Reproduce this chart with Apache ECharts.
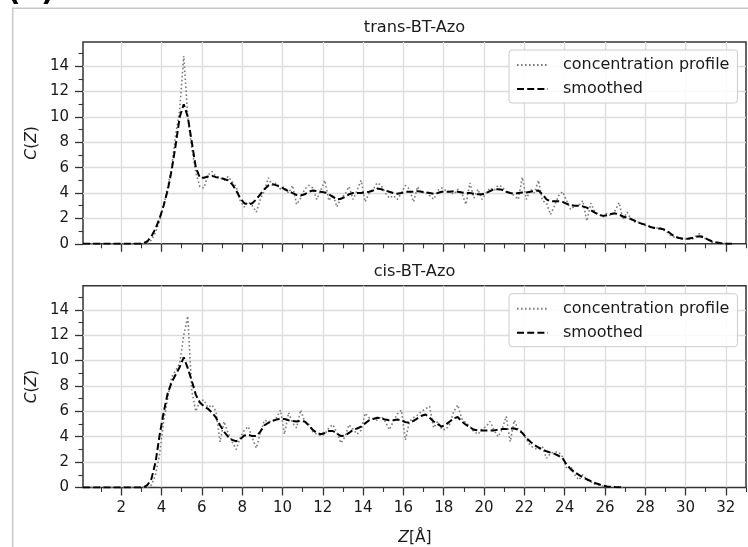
<!DOCTYPE html>
<html>
<head>
<meta charset="utf-8">
<script src="https://cdn.jsdelivr.net/npm/echarts@6/dist/echarts.min.js"></script>
<style>
  html, body { margin: 0; padding: 0; background: #fff; }
  #chart { width: 748px; height: 547px; }
</style>
</head>
<body>
<div id="chart"></div>
<script>
// bin centres along Z (Å)
const zBins = [
  0.1, 0.3, 0.5, 0.7, 0.9, 1.1, 1.3, 1.5, 1.7, 1.9,
  2.1, 2.3, 2.5, 2.7, 2.9, 3.1, 3.3, 3.5, 3.7, 3.9,
  4.1, 4.3, 4.5, 4.7, 4.9, 5.1, 5.3, 5.5, 5.7, 5.9,
  6.1, 6.3, 6.5, 6.7, 6.9, 7.1, 7.3, 7.5, 7.7, 7.9,
  8.1, 8.3, 8.5, 8.7, 8.9, 9.1, 9.3, 9.5, 9.7, 9.9,
  10.1, 10.3, 10.5, 10.7, 10.9, 11.1, 11.3, 11.5, 11.7, 11.9,
  12.1, 12.3, 12.5, 12.7, 12.9, 13.1, 13.3, 13.5, 13.7, 13.9,
  14.1, 14.3, 14.5, 14.7, 14.9, 15.1, 15.3, 15.5, 15.7, 15.9,
  16.1, 16.3, 16.5, 16.7, 16.9, 17.1, 17.3, 17.5, 17.7, 17.9,
  18.1, 18.3, 18.5, 18.7, 18.9, 19.1, 19.3, 19.5, 19.7, 19.9,
  20.1, 20.3, 20.5, 20.7, 20.9, 21.1, 21.3, 21.5, 21.7, 21.9,
  22.1, 22.3, 22.5, 22.7, 22.9, 23.1, 23.3, 23.5, 23.7, 23.9,
  24.1, 24.3, 24.5, 24.7, 24.9, 25.1, 25.3, 25.5, 25.7, 25.9,
  26.1, 26.3, 26.5, 26.7, 26.9, 27.1, 27.3, 27.5, 27.7, 27.9,
  28.1, 28.3, 28.5, 28.7, 28.9, 29.1, 29.3, 29.5, 29.7, 29.9,
  30.1, 30.3, 30.5, 30.7, 30.9, 31.1, 31.3, 31.5, 31.7, 31.9,
  32.1, 32.3
]

// trans-BT-Azo
const transProfile = [
  0, 0, 0, 0, 0, 0, 0, 0, 0, 0,
  0, 0, 0, 0, 0, 0, 0.05, 0.3, 0.9, 1.8,
  3.0, 4.4, 6.0, 8.6, 10.6, 14.8, 10.0, 7.5, 5.6, 4.5,
  4.4, 5.4, 5.7, 5.3, 5.2, 5.0, 5.3, 4.9, 4.5, 3.4,
  2.9, 3.3, 3.0, 2.5, 3.5, 4.2, 5.2, 4.6, 4.8, 4.3,
  4.5, 4.0, 4.6, 3.1, 3.6, 4.3, 4.6, 4.4, 3.5, 4.2,
  5.0, 3.4, 3.9, 2.9, 3.6, 3.9, 4.5, 3.5, 4.2, 5.0,
  3.3, 4.0, 4.3, 4.8, 4.6, 4.0, 3.6, 3.8, 3.5, 4.0,
  4.6, 4.3, 3.3, 4.5, 4.0, 4.1, 3.8, 3.5, 4.2, 4.4,
  4.2, 4.1, 3.9, 4.3, 4.0, 3.1, 4.8, 3.6, 4.3, 3.5,
  4.0, 4.4, 4.2, 4.6, 4.5, 4.1, 4.0, 3.8, 3.5, 5.25,
  3.5, 4.3, 4.0, 5.0, 3.4, 3.2, 2.3, 3.0, 3.8, 4.1,
  3.4, 2.7, 3.0, 3.0, 3.4, 1.8, 3.2, 2.5, 2.3, 2.1,
  2.4, 2.2, 2.6, 3.25, 1.9, 2.5, 1.9, 1.7, 1.7, 1.5,
  1.4, 1.3, 1.2, 1.3, 1.1, 0.9, 0.6, 0.5, 0.4, 0.35,
  0.4, 0.3, 0.6, 0.8, 0.5, 0.3, 0.15, 0.1, 0.05, 0.02,
  0, 0
]
const transSmoothed = [
  0, 0, 0, 0, 0, 0, 0, 0, 0, 0,
  0, 0, 0, 0, 0, 0.05, 0.2, 0.6, 1.2, 2.0,
  3.0, 4.2, 5.8, 7.8, 10.0, 11.0, 10.0, 8.0, 6.0, 5.2,
  5.2, 5.3, 5.35, 5.25, 5.2, 5.1, 5.0, 4.7, 4.2, 3.6,
  3.2, 3.1, 3.2, 3.5, 3.9, 4.3, 4.6, 4.7, 4.6, 4.5,
  4.3, 4.15, 4.0, 3.85, 3.8, 3.9, 4.1, 4.2, 4.15, 4.1,
  4.05, 3.9, 3.7, 3.5, 3.55, 3.7, 3.9, 4.0, 4.0, 4.0,
  4.05, 4.1, 4.2, 4.35, 4.3, 4.2, 4.1, 4.0, 3.95, 4.0,
  4.1, 4.1, 4.1, 4.15, 4.1, 4.05, 4.0, 3.95, 4.0, 4.1,
  4.1, 4.1, 4.15, 4.1, 4.05, 4.0, 4.0, 3.95, 3.9, 3.9,
  4.0, 4.15, 4.3, 4.3, 4.25, 4.1, 4.0, 3.95, 4.0, 4.05,
  4.05, 4.1, 4.15, 4.2, 3.9, 3.5, 3.35, 3.35, 3.35, 3.3,
  3.15, 3.05, 3.0, 3.0, 2.95, 2.85, 2.65, 2.45, 2.3, 2.2,
  2.25, 2.35, 2.4, 2.3, 2.15, 2.05, 1.95, 1.8, 1.65, 1.55,
  1.45, 1.3, 1.25, 1.2, 1.15, 1.0, 0.75, 0.55, 0.45, 0.4,
  0.4, 0.45, 0.55, 0.6, 0.5, 0.35, 0.2, 0.12, 0.07, 0.03,
  0.01, 0
]

// cis-BT-Azo
const cisProfile = [
  0, 0, 0, 0, 0, 0, 0, 0, 0, 0,
  0, 0, 0, 0, 0, 0, 0, 0.2, 1.0, 2.6,
  5.2, 7.0, 8.7, 9.2, 9.8, 12.0, 13.5, 7.6, 6.0, 6.8,
  6.9, 6.3, 6.5, 6.0, 3.6, 5.2, 4.3, 3.6, 3.0, 3.9,
  4.5, 4.8, 3.9, 3.1, 4.3, 5.3, 5.2, 5.2, 5.5, 6.1,
  4.2, 5.9, 5.1, 4.7, 6.1, 5.2, 5.0, 4.4, 4.2, 4.1,
  4.2, 4.7, 4.95, 4.3, 3.5, 4.0, 4.95, 4.6, 4.2, 4.5,
  5.85, 5.5, 5.4, 5.3, 5.6, 5.2, 4.55, 5.2, 5.8, 6.1,
  3.75, 5.2, 5.5, 5.7, 6.0, 6.2, 6.4, 4.7, 5.2, 4.6,
  4.55, 5.0, 6.0, 6.5, 5.4, 5.1, 4.8, 4.4, 4.2, 4.6,
  4.8, 5.2, 4.5, 4.0, 4.6, 5.6, 3.6, 5.3, 4.55, 4.4,
  3.8, 3.3, 3.1, 3.0, 3.2, 2.3, 2.7, 2.8, 2.8, 2.4,
  1.5, 1.7, 1.0, 0.6, 1.0, 0.6, 0.45, 0.25, 0.2, 0.12,
  0.08, 0.05, 0.03, 0.02, 0
]
const cisSmoothed = [
  0, 0, 0, 0, 0, 0, 0, 0, 0, 0,
  0, 0, 0, 0, 0, 0, 0.2, 0.7, 2.0, 4.1,
  5.9, 7.4, 8.3, 8.9, 9.5, 10.25, 9.4, 8.4, 7.3, 6.7,
  6.4, 6.2, 5.9, 5.5, 4.9, 4.4, 4.0, 3.75, 3.65, 3.8,
  4.1, 4.15, 4.05, 4.05, 4.4, 4.9, 5.1, 5.25, 5.35, 5.4,
  5.4, 5.3, 5.25, 5.2, 5.25, 5.2, 4.9, 4.55, 4.3, 4.2,
  4.3, 4.45, 4.45, 4.25, 4.05, 4.1, 4.3, 4.55, 4.65, 4.8,
  5.05, 5.3, 5.4, 5.5, 5.45, 5.35, 5.3, 5.3, 5.35, 5.3,
  5.15, 5.1, 5.25, 5.45, 5.65, 5.75, 5.5, 5.2, 5.0, 4.8,
  4.95, 5.2, 5.45, 5.55, 5.2, 4.95, 4.75, 4.55, 4.5, 4.5,
  4.5, 4.5, 4.5, 4.55, 4.6, 4.6, 4.65, 4.65, 4.55, 4.3,
  3.9, 3.6, 3.35, 3.15, 3.0, 2.85, 2.75, 2.65, 2.5, 2.3,
  1.8, 1.45, 1.2, 1.0, 0.8, 0.65, 0.5, 0.35, 0.25, 0.15,
  0.08, 0.05, 0.03, 0.02, 0
]

const xMajorTicks = [2, 4, 6, 8, 10, 12, 14, 16, 18, 20, 22, 24, 26, 28, 30, 32]
const xMinorTicks = [1, 3, 5, 7, 9, 11, 13, 15, 17, 19, 21, 23, 25, 27, 29, 31, 33]
const yMajorTicks = [0, 2, 4, 6, 8, 10, 12, 14]
const yMinorTicks = [1, 3, 5, 7, 9, 11, 13, 15]
const panelTitles = ['trans-BT-Azo', 'cis-BT-Azo']
const seriesNames = ['concentration profile', 'smoothed']

const X_MIN = 0.1
const X_MAX = 33
const Y_MAX = 15.9
const FONT = 'DejaVu Sans'
const gridTops = [42, 285.7]
const GRID_H = 201.8

const toPairs = (vals) => vals.map((v, i) => [zBins[i], v])

const chart = echarts.init(document.getElementById('chart'), null, { renderer: 'canvas' })

const grids = []
const xAxes = []
const yAxes = []
const legends = []
const series = []
const graphics = []

const profiles = [transProfile, cisProfile]
const smootheds = [transSmoothed, cisSmoothed]

gridTops.forEach((top, g) => {
  grids.push({
    left: 83, top: top, width: 663, height: GRID_H,
    show: true, borderColor: '#333', borderWidth: 1.5, backgroundColor: 'transparent'
  })
  // major x axis
  xAxes.push({
    gridIndex: g, type: 'value', min: X_MIN, max: X_MAX, position: 'bottom',
    axisLine: { show: false },
    axisTick: { show: true, customValues: xMajorTicks, length: 8, lineStyle: { color: '#333', width: 1.3 } },
    axisLabel: {
      show: g === 1, customValues: xMajorTicks, margin: 13,
      fontFamily: FONT, fontSize: 15, color: '#1a1a1a'
    },
    splitLine: { show: true, lineStyle: { color: '#dcdcdc', width: 1.3 } }
  })
  // minor x ticks
  xAxes.push({
    gridIndex: g, type: 'value', min: X_MIN, max: X_MAX, position: 'bottom', offset: 0,
    axisLine: { show: false },
    axisTick: { show: true, customValues: xMinorTicks, length: 4.5, lineStyle: { color: '#333', width: 1.1 } },
    axisLabel: { show: false },
    splitLine: { show: false }
  })
  yAxes.push({
    gridIndex: g, type: 'value', min: 0, max: Y_MAX, position: 'left',
    axisLine: { show: false },
    axisTick: { show: true, customValues: yMajorTicks, length: 8, lineStyle: { color: '#333', width: 1.3 } },
    axisLabel: {
      customValues: yMajorTicks, margin: 14,
      fontFamily: FONT, fontSize: 15, color: '#1a1a1a'
    },
    splitLine: { show: true, showMinLine: false, lineStyle: { color: '#dcdcdc', width: 1.3 } }
  })
  yAxes.push({
    gridIndex: g, type: 'value', min: 0, max: Y_MAX, position: 'left', offset: 0,
    axisLine: { show: false },
    axisTick: { show: true, customValues: yMinorTicks, length: 4.5, lineStyle: { color: '#333', width: 1.1 } },
    axisLabel: { show: false },
    splitLine: { show: false }
  })

  legends.push({
    data: seriesNames,
    orient: 'vertical',
    left: 509, top: top + 8,
    itemWidth: 31, itemHeight: 12, itemGap: 8,
    padding: [7, 8, 6, 7],
    backgroundColor: 'rgba(255,255,255,0.85)',
    borderColor: '#cccccc', borderWidth: 1, borderRadius: 3,
    itemStyle: { opacity: 0 },
    textStyle: { fontFamily: FONT, fontSize: 16, color: '#1a1a1a', padding: [0, 0, 0, 10] }
  })

  series.push({
    name: seriesNames[0], type: 'line', xAxisIndex: g * 2, yAxisIndex: g * 2,
    data: toPairs(profiles[g]), showSymbol: false, symbol: 'none',
    color: '#7c7c7c',
    lineStyle: { color: '#7c7c7c', width: 1.6, type: [1.6, 2.4] },
    z: 2
  })
  series.push({
    name: seriesNames[1], type: 'line', xAxisIndex: g * 2, yAxisIndex: g * 2,
    data: toPairs(smootheds[g]), showSymbol: false, symbol: 'none',
    color: '#000000',
    lineStyle: { color: '#000000', width: 2, type: [7, 3.2] },
    z: 3
  })

  graphics.push({
    type: 'text', x: 414.5, y: top - 14,
    style: {
      text: panelTitles[g], fontFamily: FONT, fontSize: 16.2, fill: '#1a1a1a',
      align: 'center', verticalAlign: 'middle'
    }
  })
  graphics.push({
    type: 'text', x: 32, y: top + GRID_H / 2, rotation: Math.PI / 2,
    style: {
      text: '{i|C}({i|Z})', fontFamily: FONT, fontSize: 15.5, fill: '#1a1a1a',
      align: 'center', verticalAlign: 'middle',
      rich: { i: { fontFamily: FONT, fontSize: 15.5, fontStyle: 'italic', fill: '#1a1a1a' } }
    }
  })
})

graphics.push({
  type: 'text', x: 415, y: 538,
  style: {
    text: '{i|Z}[Å]', fontFamily: FONT, fontSize: 15.5, fill: '#1a1a1a',
    align: 'center', verticalAlign: 'middle',
    rich: { i: { fontFamily: FONT, fontSize: 15.5, fontStyle: 'italic', fill: '#1a1a1a' } }
  }
})
// frame of the figure panel and cut-off panel label
graphics.push({
  type: 'polyline', silent: true,
  shape: { points: [[12.7, 547], [12.7, 8.3], [748, 8.3]] },
  style: { stroke: '#c8c8c8', lineWidth: 1.5, fill: null }
})
graphics.push({
  type: 'text', x: 7, y: -8,
  style: {
    text: '(a)', fontFamily: FONT, fontSize: 30, fontWeight: 'bold', fill: '#000',
    align: 'left', verticalAlign: 'middle'
  }
})

chart.setOption({
  animation: false,
  backgroundColor: '#ffffff',
  grid: grids,
  xAxis: xAxes,
  yAxis: yAxes,
  legend: legends,
  series: series,
  graphic: graphics
})
</script>
</body>
</html>
